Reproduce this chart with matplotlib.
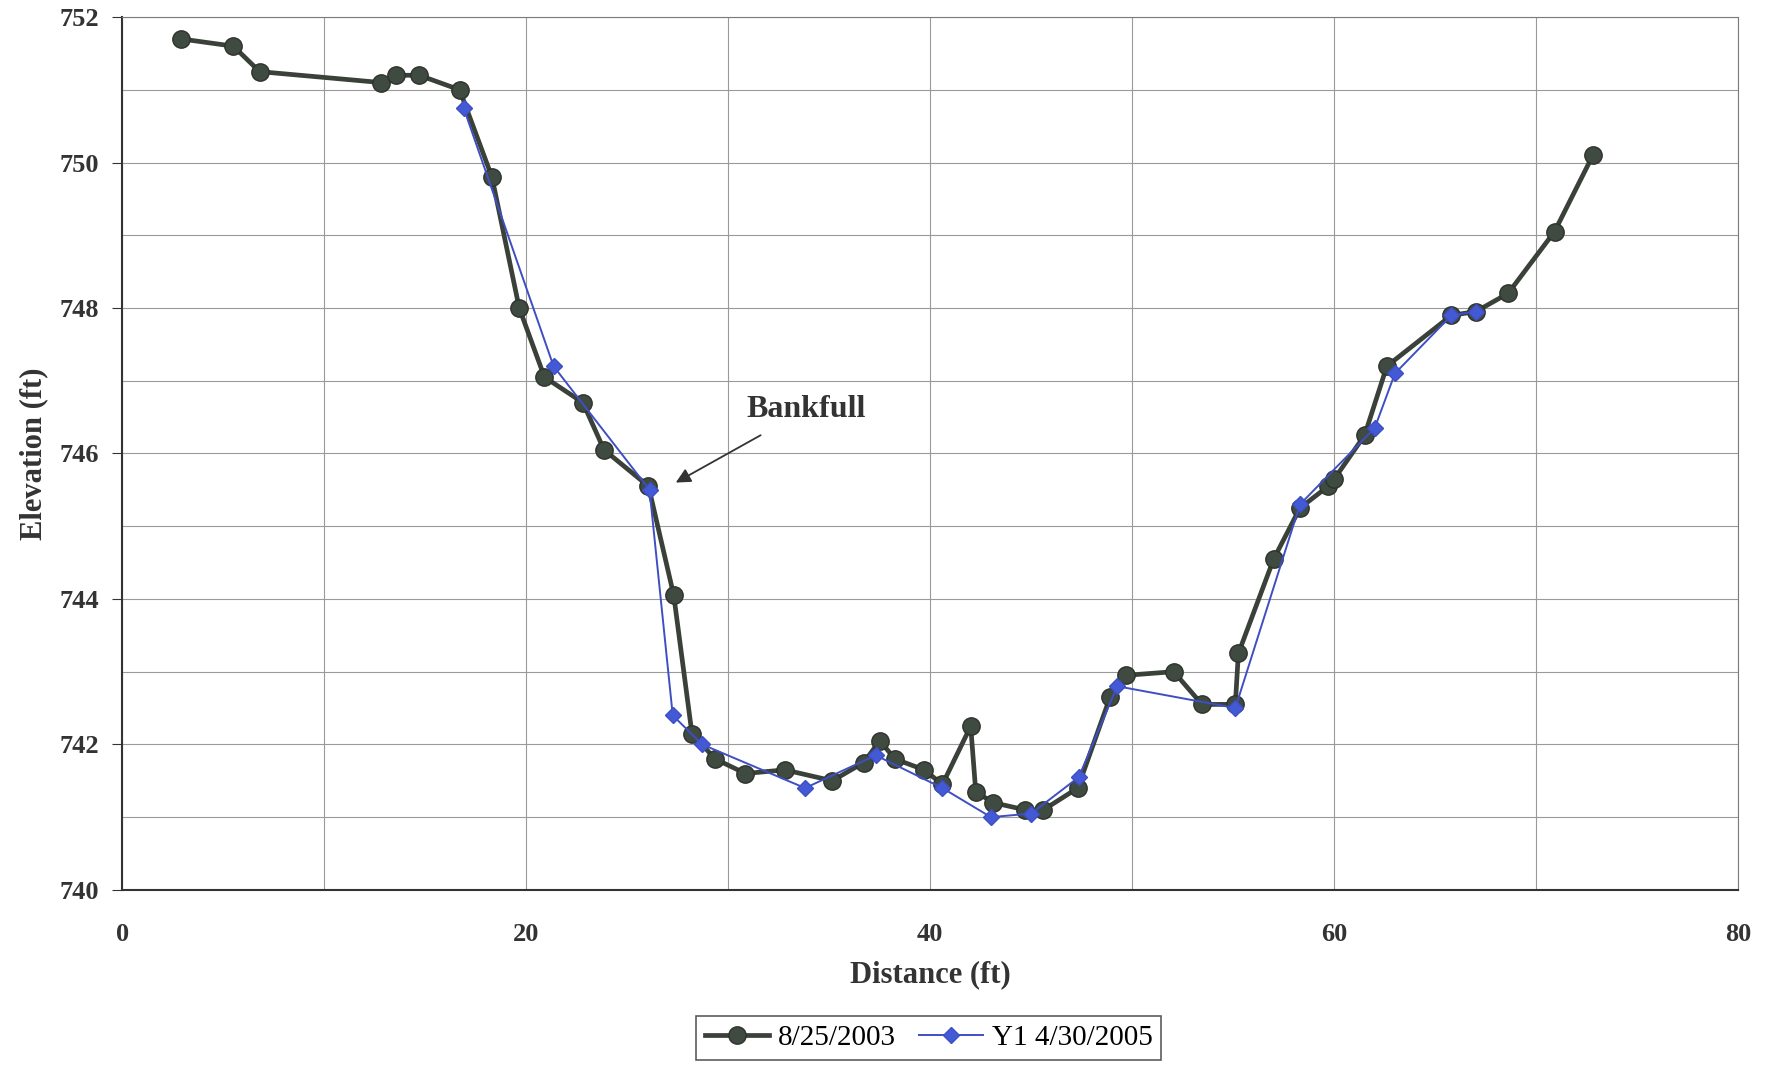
import matplotlib
matplotlib.use("Agg")
import matplotlib.pyplot as plt

# survey of 8/25/2003
dist_2003 = [2.9, 5.5, 6.8, 12.8, 13.55, 14.7, 16.7, 18.3, 19.65, 20.9, 22.8, 23.85,
             26.05, 27.3, 28.2, 29.35, 30.85, 32.8, 35.15, 36.7, 37.5, 38.25, 39.7,
             40.6, 42.0, 42.25, 43.1, 44.7, 45.6, 47.3, 48.9, 49.7, 52.05, 53.45,
             55.1, 55.25, 57.0, 58.3, 59.7, 60.0, 61.5, 62.6, 65.8, 67.0, 68.6,
             70.9, 72.8]
elev_2003 = [751.7, 751.6, 751.25, 751.1, 751.2, 751.2, 751.0, 749.8, 748.0, 747.05,
             746.7, 746.05, 745.55, 744.05, 742.15, 741.8, 741.6, 741.65, 741.5,
             741.75, 742.05, 741.8, 741.65, 741.45, 742.25, 741.35, 741.2, 741.1,
             741.1, 741.4, 742.65, 742.95, 743.0, 742.55, 742.55, 743.25, 744.55,
             745.25, 745.55, 745.65, 746.25, 747.2, 747.9, 747.95, 748.2, 749.05, 750.1]

# Y1 survey of 4/30/2005
dist_2005 = [16.9, 21.35, 26.1, 27.25, 28.7, 33.8, 37.3, 40.6, 43.0, 45.0, 47.35,
             49.25, 55.1, 58.3, 62.0, 63.0, 65.8, 67.0]
elev_2005 = [750.75, 747.2, 745.5, 742.4, 742.0, 741.4, 741.85, 741.4, 741.0, 741.05,
             741.55, 742.8, 742.5, 745.3, 746.35, 747.1, 747.9, 747.95]

x_ticks = [0, 20, 40, 60, 80]
y_ticks = [740, 742, 744, 746, 748, 750, 752]

plt.rcParams['font.family'] = ['Liberation Serif', 'DejaVu Serif']

fig = plt.figure(figsize=(17.72, 10.67), dpi=100)
ax = fig.add_axes([0.069, 0.166, 0.912, 0.818])

ax.plot(dist_2003, elev_2003, color='#3a4139', lw=3.4, marker='o', ms=12.5,
        mfc='#3f4a40', mec='#2e332d', label='8/25/2003', zorder=3)
ax.plot(dist_2005, elev_2005, color='#3d4fc2', lw=1.4, marker='D', ms=8.5,
        mfc='#4459d6', mec='#3d4fc2', label='Y1 4/30/2005', zorder=4)

ax.set_xlim(0, 80)
ax.set_ylim(740, 752)
ax.set_xticks(x_ticks)
ax.set_yticks(y_ticks)
ax.set_xticks(range(0, 81, 10), minor=True)
ax.set_yticks(range(740, 753), minor=True)
ax.grid(which='both', color='#9a9a9a', lw=0.8)
ax.set_axisbelow(True)

for side in ['top', 'right']:
    ax.spines[side].set_color('#7a7a7a')
for side in ['left', 'bottom']:
    ax.spines[side].set_color('#333333')
    ax.spines[side].set_linewidth(1.5)

ax.tick_params(axis='x', which='both', length=0, pad=24, labelsize=19, colors='#333333')
ax.tick_params(axis='y', which='major', length=7, pad=10, labelsize=19, colors='#333333')
ax.tick_params(axis='y', which='minor', length=0)
for lbl in ax.get_xticklabels() + ax.get_yticklabels():
    lbl.set_fontweight('bold')

ax.set_xlabel('Distance (ft)', fontsize=22, fontweight='bold', color='#333333', labelpad=10)
ax.set_ylabel('Elevation (ft)', fontsize=22, fontweight='bold', color='#333333', labelpad=8)

ax.annotate('Bankfull', xy=(27.4, 745.6), xytext=(30.9, 746.6),
            fontsize=23, fontweight='bold', color='#333333', va='center',
            arrowprops=dict(arrowstyle='-|>', color='#333333', lw=1.3,
                            mutation_scale=22, shrinkA=12, shrinkB=0))

leg = fig.legend(loc='center', bbox_to_anchor=(0.524, 0.027), ncol=2,
                 fontsize=21, frameon=True, fancybox=False, handlelength=2.2,
                 columnspacing=0.8, handletextpad=0.3, borderpad=0.3)
leg.get_frame().set_edgecolor('#333333')
leg.get_frame().set_linewidth(1.2)

fig.savefig('out.png', dpi=100)
